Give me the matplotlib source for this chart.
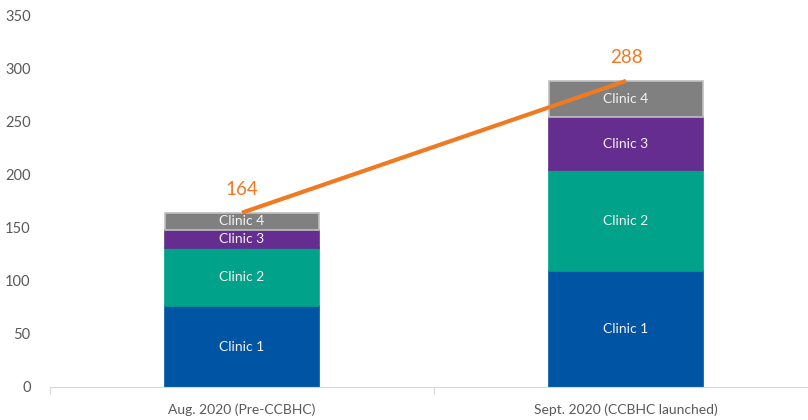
import matplotlib
matplotlib.use("Agg")
import matplotlib.pyplot as plt
import numpy as np

plt.rcParams['font.family'] = ['Lato', 'DejaVu Sans']

categories = ['Aug. 2020 (Pre-CCBHC)', 'Sept. 2020 (CCBHC launched)']
clinics = ['Clinic 1', 'Clinic 2', 'Clinic 3', 'Clinic 4']
clinic_values = [
    [76, 109],   # Clinic 1
    [55, 95],    # Clinic 2
    [17, 50],    # Clinic 3
    [16, 34],    # Clinic 4
]
totals = [164, 288]
colors = ['#0054A4', '#00A28A', '#652D90', '#808080']

fig = plt.figure(figsize=(8.08, 4.2), dpi=100)
ax = fig.add_axes([50 / 808, 33 / 420, 768 / 808, 372 / 420])

x = np.arange(len(categories))
bottom = np.zeros(len(categories))
for name, vals, col in zip(clinics, clinic_values, colors):
    vals = np.array(vals)
    edge = '#BFBFBF' if name == 'Clinic 4' else col
    ax.bar(x, vals, width=0.4, bottom=bottom, color=col, edgecolor=edge, linewidth=1.2)
    for xi, b, v in zip(x, bottom, vals):
        ax.text(xi, b + v / 2, name, ha='center', va='center', color='#F2F2F2', fontsize=10)
    bottom += vals

ax.plot(x, totals, color='#F07A22', linewidth=3, solid_capstyle='butt', zorder=5)
for xi, t in zip(x, totals):
    ax.text(xi, t + 14, str(t), ha='center', va='bottom', color='#F07A22', fontsize=13.5)

ax.set_xlim(-0.5, 1.5)
ax.set_ylim(0, 350)
ax.set_yticks(range(0, 351, 50))
ax.set_xticks([-0.5, 0.5, 1.5], minor=False)
ax.set_xticklabels(['', '', ''])
ax.set_xticks(x, minor=True)
ax.set_xticklabels(categories, minor=True)
ax.tick_params(axis='x', which='major', length=5, color='#D9D9D9', direction='out')
ax.tick_params(axis='x', which='minor', length=0, pad=12, labelsize=10, labelcolor='#595959')
ax.tick_params(axis='y', length=0, pad=14, labelsize=10.5, labelcolor='#595959')
for s in ['top', 'right', 'left']:
    ax.spines[s].set_visible(False)
ax.spines['bottom'].set_color('#D9D9D9')

fig.savefig('out.png', dpi=100)
